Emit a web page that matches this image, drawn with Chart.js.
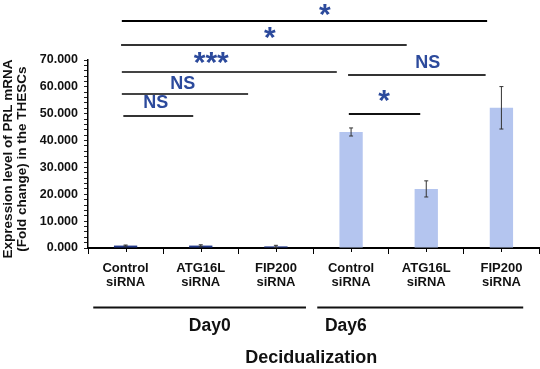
<!DOCTYPE html>
<html>
<head>
<meta charset="utf-8">
<script src="https://cdn.jsdelivr.net/npm/chart.js@4"></script>
<style>
  html, body { margin: 0; padding: 0; background: #fff; }
  canvas { display: block; }
</style>
</head>
<body>
<canvas id="prlChart" width="540" height="369"></canvas>
<script>
// data
const categories = [['Control', 'siRNA'], ['ATG16L', 'siRNA'], ['FIP200', 'siRNA'],
                    ['Control', 'siRNA'], ['ATG16L', 'siRNA'], ['FIP200', 'siRNA']];
const dayGroup = ['Day0', 'Day0', 'Day0', 'Day6', 'Day6', 'Day6'];
const expression = [0.9, 0.9, 0.6, 43.2, 22.0, 52.2];
const expressionErr = [0.2, 0.3, 0.4, 1.5, 3.0, 7.9];
const yMin = 0, yMax = 70, yMajor = 10, yMinor = 2;

// significance brackets: from/to in category units, level + label centre in y units
const brackets = [
  { from: -0.05, to: 4.81, level: 84.5, text: '*',   tx: 2.65, ty: 88.6, color: '#000' },
  { from: -0.06, to: 3.74, level: 75.6, text: '*',   tx: 1.92, ty: 80.0, color: '#333' },
  { from: -0.05, to: 2.81, level: 65.6, text: '***', tx: 1.14, ty: 70.8, color: '#444' },
  { from: -0.05, to: 1.63, level: 57.4, text: 'NS',  tx: 0.76, ty: 61.8, color: '#444' },
  { from: -0.03, to: 0.90, level: 49.2, text: 'NS',  tx: 0.40, ty: 54.4, color: '#333' },
  { from: 2.96,  to: 4.79, level: 64.5, text: 'NS',  tx: 4.02, ty: 69.3, color: '#333' },
  { from: 2.97,  to: 3.92, level: 49.9, text: '*',   tx: 3.44, ty: 56.6, color: '#111' }
];
// day group underlines below the axis (category units)
const dayLines = [
  { label: 'Day0', from: -0.43, to: 2.40, at: 1.12 },
  { label: 'Day6', from: 2.55, to: 5.29, at: 2.93 }
];
const xTitle = 'Decidualization';
const yTitle = ['Expression level of PRL mRNA', '(Fold change) in the THESCs'];

const FONT = "'Liberation Sans', Arial, sans-serif";
const sigBlue = '#2c4a9c';

const overlay = {
  id: 'overlay',
  afterDraw(chart) {
    const { ctx, chartArea } = chart;
    const x = chart.scales.x, y = chart.scales.y;
    ctx.save();

    // error bars
    ctx.strokeStyle = '#333';
    ctx.lineWidth = 1;
    expression.forEach((v, i) => {
      const px = x.getPixelForValue(i);
      const t = y.getPixelForValue(v + expressionErr[i]);
      const b = y.getPixelForValue(v - expressionErr[i]);
      ctx.beginPath();
      ctx.moveTo(px, t); ctx.lineTo(px, b);
      ctx.moveTo(px - 2, t); ctx.lineTo(px + 2, t);
      ctx.moveTo(px - 2, b); ctx.lineTo(px + 2, b);
      ctx.stroke();
    });

    // small ticks under each bar centre
    ctx.strokeStyle = '#000';
    ctx.lineWidth = 1;
    categories.forEach((c, i) => {
      const px = Math.round(x.getPixelForValue(i)) + 0.5;
      ctx.beginPath();
      ctx.moveTo(px, chartArea.bottom);
      ctx.lineTo(px, chartArea.bottom + 4);
      ctx.stroke();
    });

    // brackets and their labels
    brackets.forEach(br => {
      const ly = Math.round(y.getPixelForValue(br.level));
      ctx.strokeStyle = br.color;
      ctx.lineWidth = 2;
      ctx.beginPath();
      ctx.moveTo(x.getPixelForValue(br.from), ly);
      ctx.lineTo(x.getPixelForValue(br.to), ly);
      ctx.stroke();

      const star = br.text.indexOf('*') >= 0;
      ctx.font = (star ? 'bold 30px ' : 'bold 18px ') + FONT;
      ctx.fillStyle = sigBlue;
      ctx.textAlign = 'center';
      ctx.textBaseline = 'alphabetic';
      const m = ctx.measureText(br.text);
      const cy = y.getPixelForValue(br.ty);
      const base = cy + (m.actualBoundingBoxAscent - m.actualBoundingBoxDescent) / 2;
      ctx.fillText(br.text, x.getPixelForValue(br.tx), base);
    });

    // day groups
    const lineY = chartArea.bottom + 59.5;
    ctx.strokeStyle = '#111';
    ctx.lineWidth = 2;
    ctx.fillStyle = '#111';
    ctx.font = 'bold 17.5px ' + FONT;
    ctx.textAlign = 'center';
    ctx.textBaseline = 'alphabetic';
    dayLines.forEach(d => {
      ctx.beginPath();
      ctx.moveTo(x.getPixelForValue(d.from), lineY);
      ctx.lineTo(x.getPixelForValue(d.to), lineY);
      ctx.stroke();
      ctx.fillText(d.label, x.getPixelForValue(d.at), chartArea.bottom + 82.7);
    });

    // x title
    ctx.font = 'bold 18px ' + FONT;
    ctx.fillText(xTitle, x.getPixelForValue(2.47), chartArea.bottom + 114.5);

    // y title, rotated
    ctx.font = 'bold 13.5px ' + FONT;
    ctx.translate(0, 159);
    ctx.rotate(-Math.PI / 2);
    ctx.fillText(yTitle[0], 0, 12.3);
    ctx.fillText(yTitle[1], 0, 25.7);

    ctx.restore();
  }
};

new Chart(document.getElementById('prlChart').getContext('2d'), {
  type: 'bar',
  data: {
    labels: categories,
    datasets: [{
      data: expression,
      backgroundColor: ctx => dayGroup[ctx.dataIndex] === 'Day0' ? '#22398a' : '#b4c5ef',
      borderWidth: 0,
      barPercentage: 0.31,
      categoryPercentage: 1
    }]
  },
  options: {
    responsive: false,
    animation: false,
    layout: { padding: { top: 60, right: 1, left: 0, bottom: 0 } },
    plugins: { legend: { display: false }, tooltip: { enabled: false } },
    scales: {
      x: {
        afterFit: s => { s.height = 121; },
        border: { color: '#000', width: 2 },
        grid: { drawOnChartArea: false, offset: true, tickLength: 6, color: '#000', tickWidth: 1 },
        ticks: {
          maxRotation: 0, autoSkip: false, padding: 7, color: '#111',
          font: { family: FONT, size: 13, weight: 'bold', lineHeight: 1.1 }
        }
      },
      y: {
        min: yMin, max: yMax,
        afterFit: s => { s.width = 88; },
        border: { color: '#000', width: 1.5 },
        grid: { drawOnChartArea: false, tickLength: 4, color: '#222', tickWidth: 1 },
        ticks: {
          stepSize: yMinor, autoSkip: false, padding: 6, color: '#111',
          font: { family: FONT, size: 12.5, weight: 'bold' },
          callback: v => (v % yMajor === 0 ? v.toFixed(3) : '')
        }
      }
    }
  },
  plugins: [overlay]
});
</script>
</body>
</html>
